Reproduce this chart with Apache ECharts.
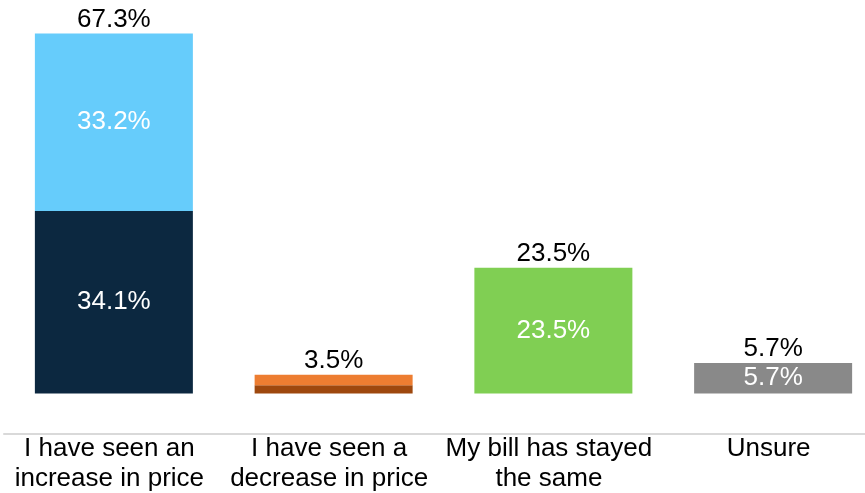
<!DOCTYPE html>
<html>
<head>
<meta charset="utf-8">
<script src="https://cdn.jsdelivr.net/npm/echarts@6/dist/echarts.min.js"></script>
<style>
  html, body { margin: 0; padding: 0; background: #fff; }
  #chart { width: 865px; height: 493px; }
</style>
</head>
<body>
<div id="chart"></div>
<script>
// Answer categories
const categories = [
  'I have seen an\nincrease in price',
  'I have seen a\ndecrease in price',
  'My bill has stayed\nthe same',
  'Unsure'
];

// Stacked segments (percent), null where a segment does not apply
const increaseLower = [34.1, null, null, null];
const increaseUpper = [33.2, null, null, null];
const decreaseLower = [null, 1.5, null, null];
const decreaseUpper = [null, 2.0, null, null];
const stayedSame    = [null, null, 23.5, null];
const unsure        = [null, null, null, 5.7];

const segments = [increaseLower, increaseUpper, decreaseLower, decreaseUpper, stayedSame, unsure];
const totals = categories.map((_, i) =>
  Math.round(segments.reduce((s, arr) => s + (arr[i] || 0), 0) * 10) / 10
);

const FONT = 'Liberation Sans, Arial, sans-serif';
const pct = v => Number(v).toFixed(1) + '%';

function seg(data, color, showLabel) {
  return {
    type: 'bar',
    stack: 'all',
    data: data,
    barWidth: 158,
    itemStyle: { color: color },
    label: {
      show: showLabel,
      position: 'inside',
      color: '#ffffff',
      fontFamily: FONT,
      fontSize: 26,
      formatter: p => pct(p.value)
    },
    emphasis: { disabled: true },
    silent: true
  };
}

const chart = echarts.init(document.getElementById('chart'), null, { renderer: 'canvas' });
chart.setOption({
  animation: false,
  backgroundColor: '#ffffff',
  grid: {
    left: 4, top: 19, width: 879, bottom: 59.5,
    containLabel: false,
    outerBoundsMode: 'none'
  },
  xAxis: {
    type: 'category',
    data: categories,
    axisLine: { onZero: false, lineStyle: { color: '#d9d9d9', width: 2 } },
    axisTick: { show: false },
    axisLabel: {
      interval: 0,
      color: '#000000',
      fontFamily: FONT,
      fontSize: 26,
      lineHeight: 30,
      margin: 0,
      padding: [0, 9, 0, 0]
    }
  },
  yAxis: {
    type: 'value',
    min: -7.5,
    max: 70,
    interval: 2.5,
    show: false,
    splitLine: { show: false }
  },
  series: [
    seg(increaseLower, '#0c2840', true),
    seg(increaseUpper, '#66ccfb', true),
    seg(decreaseLower, '#9e480e', false),
    seg(decreaseUpper, '#ed7d31', false),
    seg(stayedSame, '#80cf53', true),
    seg(unsure, '#898989', true),
    {
      // Totals printed above each column
      type: 'scatter',
      data: totals,
      symbolSize: 0,
      silent: true,
      itemStyle: { opacity: 1 },
      label: {
        show: true,
        position: 'top',
        distance: 1,
        color: '#000000',
        fontFamily: FONT,
        fontSize: 26,
        formatter: p => pct(p.value)
      }
    }
  ]
});
</script>
</body>
</html>
